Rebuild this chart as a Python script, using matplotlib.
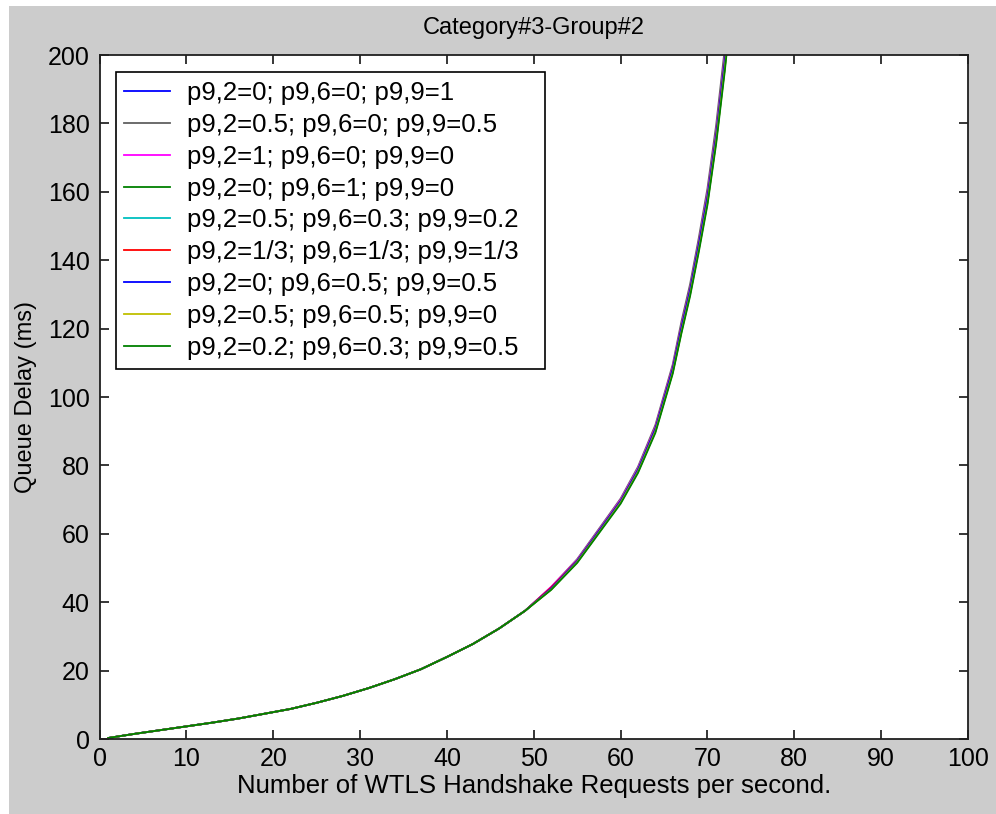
import matplotlib
matplotlib.use("Agg")
import matplotlib.pyplot as plt
from matplotlib.patches import Rectangle

# Request rate (per second); below ~50 all nine curves overlap
x_low = [1, 4, 7, 10, 13, 16, 19, 22, 25, 28, 31, 34, 37, 40, 43, 46, 49]
y_low = [0.3, 1.5, 2.6, 3.7, 4.8, 6.0, 7.4, 8.8, 10.6, 12.6, 14.9, 17.5,
         20.4, 24.0, 27.8, 32.3, 37.5]

x_high = [52, 55, 58, 60, 62, 64, 66, 67, 68, 69, 70, 71, 72, 73]
delay_s1 = [44.2, 52.3, 62.8, 69.8, 79.0, 91.0, 108.5, 120.5, 131.5, 145.0, 159.0, 177.0, 199.0, 224.0]
delay_s2 = [44.4, 52.6, 63.2, 70.3, 79.6, 91.8, 109.5, 122.0, 133.0, 146.5, 161.0, 179.5, 202.0, 228.0]
delay_s3 = [44.5, 52.4, 62.9, 70.0, 79.2, 91.2, 108.8, 120.8, 131.8, 145.2, 159.5, 177.5, 199.5, 225.0]
delay_s4 = [43.8, 51.8, 62.2, 69.2, 78.2, 90.0, 107.3, 119.2, 130.2, 143.2, 157.0, 175.0, 196.5, 221.0]
delay_s5 = [44.1, 52.2, 62.7, 69.7, 78.9, 90.8, 108.3, 120.3, 131.4, 144.8, 158.8, 176.8, 198.6, 223.5]
delay_s6 = [44.3, 52.1, 62.6, 69.6, 78.7, 90.7, 108.2, 120.2, 131.2, 144.5, 158.4, 176.4, 198.2, 223.2]
delay_s7 = [44.0, 52.0, 62.5, 69.5, 78.6, 90.6, 108.1, 120.1, 131.1, 144.3, 158.2, 176.2, 198.0, 223.0]
delay_s8 = [43.7, 51.7, 62.1, 69.1, 78.1, 89.9, 107.2, 119.0, 130.0, 143.0, 156.8, 174.8, 196.2, 220.8]
delay_s9 = [43.6, 51.5, 61.9, 68.8, 77.8, 89.5, 106.8, 118.6, 129.5, 142.4, 156.2, 174.0, 195.4, 220.0]

labels = [
    "p9,2=0; p9,6=0; p9,9=1",
    "p9,2=0.5; p9,6=0; p9,9=0.5",
    "p9,2=1; p9,6=0; p9,9=0",
    "p9,2=0; p9,6=1; p9,9=0",
    "p9,2=0.5; p9,6=0.3; p9,9=0.2",
    "p9,2=1/3; p9,6=1/3; p9,9=1/3",
    "p9,2=0; p9,6=0.5; p9,9=0.5",
    "p9,2=0.5; p9,6=0.5; p9,9=0",
    "p9,2=0.2; p9,6=0.3; p9,9=0.5",
]
series = [delay_s1, delay_s2, delay_s3, delay_s4, delay_s5,
          delay_s6, delay_s7, delay_s8, delay_s9]
colors = ["#0000ff", "#606060", "#ff00ff", "#008000", "#00bfbf",
          "#ff0000", "#0000ff", "#bfbf00", "#008000"]

x_ticks = list(range(0, 101, 10))
y_ticks = list(range(0, 201, 20))

plt.rcParams["font.family"] = ["Liberation Sans", "DejaVu Sans"]
plt.rcParams["font.size"] = 18

fig = plt.figure(figsize=(9.96, 8.14), dpi=100, facecolor="white")
# grey window area (screenshot has a thin white strip top and left)
fig.patches.append(Rectangle((9 / 996, 0), 1 - 9 / 996, 1 - 6 / 814,
                             transform=fig.transFigure, facecolor="#cccccc",
                             edgecolor="none", zorder=-10))

ax = fig.add_axes([0.0999, 0.0921, 0.872, 0.8403])
ax.set_facecolor("white")

for ys, col, lab in zip(series, colors, labels):
    ax.plot(x_low + x_high, y_low + ys, color=col, linewidth=1.3, label=lab)

ax.set_xlim(0, 100)
ax.set_ylim(0, 200)
ax.set_xticks(x_ticks)
ax.set_yticks(y_ticks)
ax.tick_params(direction="in", length=6.5, width=1.1, top=True, right=True,
               colors="black", labelsize=18)
ax.tick_params(axis="x", pad=6)
ax.tick_params(axis="y", pad=7)
for sp in ax.spines.values():
    sp.set_linewidth(1.3)
    sp.set_color("#202020")

ax.set_title("Category#3-Group#2", fontsize=17, pad=15)
ax.set_xlabel("Number of WTLS Handshake Requests per second.", fontsize=18.5,
              labelpad=2)
ax.set_ylabel("Queue Delay (ms)", fontsize=17, labelpad=8)

leg = ax.legend(loc="upper left", bbox_to_anchor=(0.019, 0.975, 0.494, 0),
                mode="expand", borderaxespad=0, fontsize=18.5, frameon=True,
                fancybox=False, handlelength=1.79, handletextpad=0.66,
                borderpad=0.33, labelspacing=0.31)
leg.get_frame().set_edgecolor("black")
leg.get_frame().set_linewidth(1.2)
leg.get_frame().set_facecolor("white")
leg.get_frame().set_alpha(1)

fig.savefig("out.png", dpi=100, facecolor=fig.get_facecolor())
